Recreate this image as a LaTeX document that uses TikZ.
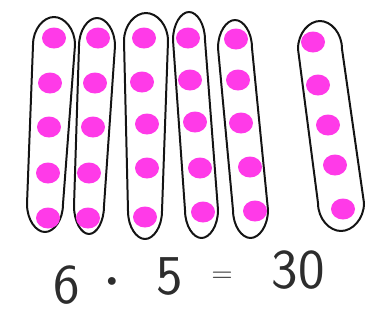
\documentclass[tikz,border=0pt]{standalone}
\usetikzlibrary{positioning}
\definecolor{dotC}{RGB}{255,58,232}
\definecolor{penC}{RGB}{20,20,20}
\definecolor{sumC}{RGB}{45,45,45}
\tikzset{
	bag/.style={draw=penC, line width=1.7pt, line join=round},
	counter/.style={fill=dotC},
	sumtext/.style={inner sep=0pt, text=sumC, font=\sffamily\fontsize{48}{48}\selectfont},
	sumsign/.style={inner sep=0pt, text=sumC, font=\fontsize{34}{34}\selectfont},
}
\begin{document}
\begin{tikzpicture}[x=0.03cm, y=-0.03cm]
		\useasboundingbox (0,0) rectangle (366,327);
		
		% ================= Groups (loops) =================
		\foreach \tl/\tr/\ty/\bl/\br/\by in {
			33/75/17/27/63/232,
			79/115/18/74/104/234,
			124/168/13/128/162/239,
			173/205/12/185/218/238,
			218/252/20/233/268/238,
			298/342/21/318/364/231}
		\draw[bag] ({(\tl+\tr)/2},\ty)
			.. controls ({(\tl+3*\tr)/4},\ty) and (\tr,{\ty+12}) .. (\tr,{\ty+28})
			-- (\br,{\by-28})
			.. controls (\br,{\by-12}) and ({(\bl+3*\br)/4},\by) .. ({(\bl+\br)/2},\by)
			.. controls ({(3*\bl+\br)/4},\by) and (\bl,{\by-12}) .. (\bl,{\by-28})
			-- (\tl,{\ty+28})
			.. controls (\tl,{\ty+12}) and ({(3*\tl+\tr)/4},\ty) .. cycle;
		
		% ================= Counters (five per group) =================
		\foreach \x/\y in {
			54/38, 50/83, 49/127, 48/173, 48/218,
			98/38, 95/83, 93/127, 89/173, 88/218,
			144/38, 142/82, 147/124, 147/168, 145/217,
			188/38, 190/80, 195/122, 200/168, 203/212,
			236/39, 238/80, 241/123, 250/167, 255/211,
			313/42, 318/85, 328/125, 335/165, 343/209}
		\fill[counter] (\x,\y) ellipse[x radius=12, y radius=10.5];
		
		% ================= Equation =================
		\node[sumtext] (six) at (67,285) {6};
		\node[sumsign, font=\fontsize{18}{18}\selectfont] (times) at (112,282) {$\bullet$};
		\node[sumtext] (five) at (170,276) {5};
		\node[sumsign] (equals) at (222,277) {$=$};
		\node[sumtext] (thirty) at (298,270) {30};
		
	\end{tikzpicture}
\end{document}
